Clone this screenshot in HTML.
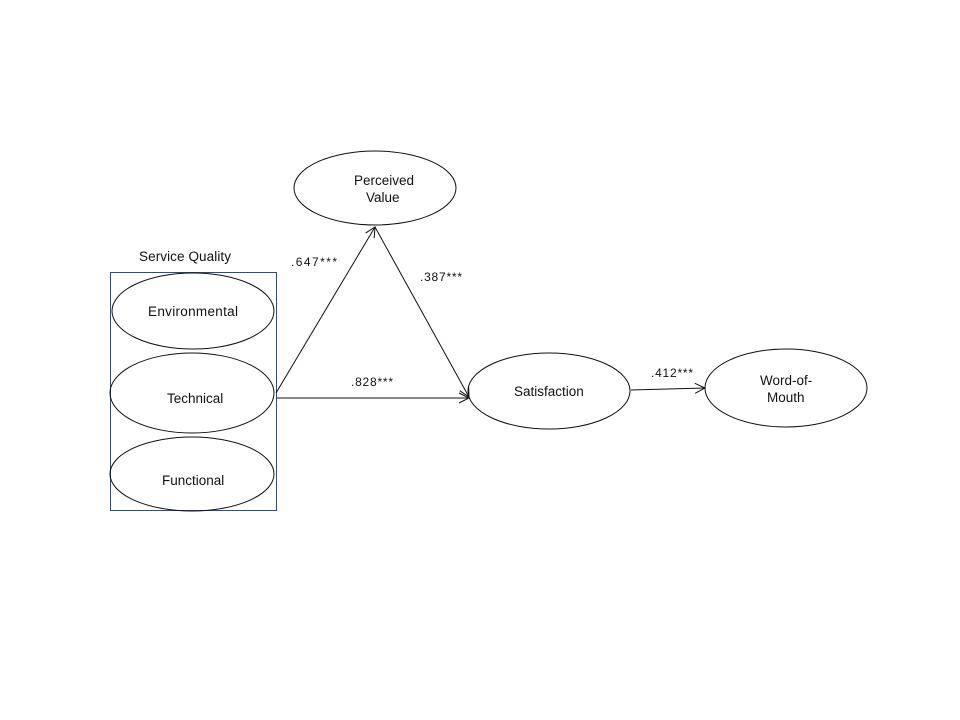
<!DOCTYPE html>
<html><head><meta charset="utf-8"><style>
html,body{margin:0;padding:0;background:#fff;}
svg{display:block;}
text{font-family:"Liberation Sans",sans-serif;fill:#111;}
</style></head><body>
<svg width="960" height="720" viewBox="0 0 960 720">
<defs>
<marker id="a" markerWidth="12" markerHeight="12" refX="11" refY="6" orient="auto" markerUnits="userSpaceOnUse">
<path d="M1,1 L11,6 L1,11" fill="none" stroke="#111" stroke-width="1"/>
</marker>
</defs>
<rect x="110.5" y="272.5" width="166" height="238" fill="none" stroke="#3b4a6b" stroke-width="1"/>
<g fill="none" stroke="#111" stroke-width="1">
<ellipse cx="193" cy="311" rx="81" ry="38"/>
<ellipse cx="192" cy="393" rx="82" ry="40"/>
<ellipse cx="192" cy="474" rx="82" ry="37"/>
<ellipse cx="375" cy="188" rx="81" ry="37"/>
<ellipse cx="549" cy="391" rx="81" ry="38"/>
<ellipse cx="786" cy="388" rx="81" ry="39"/>
<line x1="276" y1="393" x2="375" y2="227" marker-end="url(#a)"/>
<line x1="375" y1="227" x2="469" y2="397" marker-end="url(#a)"/>
<line x1="277" y1="398" x2="469" y2="398" marker-end="url(#a)"/>
<line x1="631" y1="390" x2="705" y2="388" marker-end="url(#a)"/>
</g>
<g font-size="13.5">
<text x="139" y="261" textLength="92">Service Quality</text>
<text x="148" y="316" textLength="90">Environmental</text>
<text x="167" y="403">Technical</text>
<text x="162" y="485">Functional</text>
<text x="354" y="185">Perceived</text>
<text x="366" y="202">Value</text>
<text x="514" y="396">Satisfaction</text>
<text x="760" y="385">Word-of-</text>
<text x="767" y="402">Mouth</text>
</g>
<g font-size="12">
<text x="291" y="266" textLength="46">.647***</text>
<text x="420" y="281" textLength="42">.387***</text>
<text x="351" y="386" textLength="42">.828***</text>
<text x="651" y="377" textLength="42">.412***</text>
</g>
</svg>
</body></html>
